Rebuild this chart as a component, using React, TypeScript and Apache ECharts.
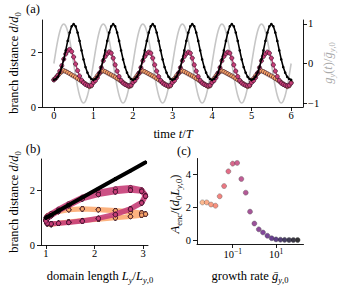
import React, { useEffect, useRef } from 'react';
import * as echarts from 'echarts';

// ---------- data ----------
const TIME = [
  0, 0.05, 0.1, 0.15, 0.2, 0.25, 0.3, 0.35, 0.4, 0.45, 0.5, 0.55, 0.6, 0.65, 0.7, 0.75, 0.8, 0.85, 0.9, 0.95,
  1, 1.05, 1.1, 1.15, 1.2, 1.25, 1.3, 1.35, 1.4, 1.45, 1.5, 1.55, 1.6, 1.65, 1.7, 1.75, 1.8, 1.85, 1.9, 1.95,
  2, 2.05, 2.1, 2.15, 2.2, 2.25, 2.3, 2.35, 2.4, 2.45, 2.5, 2.55, 2.6, 2.65, 2.7, 2.75, 2.8, 2.85, 2.9, 2.95,
  3, 3.05, 3.1, 3.15, 3.2, 3.25, 3.3, 3.35, 3.4, 3.45, 3.5, 3.55, 3.6, 3.65, 3.7, 3.75, 3.8, 3.85, 3.9, 3.95,
  4, 4.05, 4.1, 4.15, 4.2, 4.25, 4.3, 4.35, 4.4, 4.45, 4.5, 4.55, 4.6, 4.65, 4.7, 4.75, 4.8, 4.85, 4.9, 4.95,
  5, 5.05, 5.1, 5.15, 5.2, 5.25, 5.3, 5.35, 5.4, 5.45, 5.5, 5.55, 5.6, 5.65, 5.7, 5.75, 5.8, 5.85, 5.9, 5.95,
  6,
];

// g_y(t)/g_y,0 (grey, right axis)
const GROWTH = [
  0, 0.31, 0.59, 0.81, 0.95, 1, 0.95, 0.81, 0.59, 0.31, 0, -0.31, -0.59, -0.81, -0.95, -1, -0.95, -0.81, -0.59, -0.31,
  0, 0.31, 0.59, 0.81, 0.95, 1, 0.95, 0.81, 0.59, 0.31, 0, -0.31, -0.59, -0.81, -0.95, -1, -0.95, -0.81, -0.59, -0.31,
  0, 0.31, 0.59, 0.81, 0.95, 1, 0.95, 0.81, 0.59, 0.31, 0, -0.31, -0.59, -0.81, -0.95, -1, -0.95, -0.81, -0.59, -0.31,
  0, 0.31, 0.59, 0.81, 0.95, 1, 0.95, 0.81, 0.59, 0.31, 0, -0.31, -0.59, -0.81, -0.95, -1, -0.95, -0.81, -0.59, -0.31,
  0, 0.31, 0.59, 0.81, 0.95, 1, 0.95, 0.81, 0.59, 0.31, 0, -0.31, -0.59, -0.81, -0.95, -1, -0.95, -0.81, -0.59, -0.31,
  0, 0.31, 0.59, 0.81, 0.95, 1, 0.95, 0.81, 0.59, 0.31, 0, -0.31, -0.59, -0.81, -0.95, -1, -0.95, -0.81, -0.59, -0.31,
  0,
];

// branch distance d/d0, fast growth (black) -- equals L_y/L_y,0
const D_FAST = [
  1.0, 1.03, 1.11, 1.26, 1.47, 1.75, 2.08, 2.43, 2.74, 2.97, 3.05, 2.97, 2.74, 2.43, 2.08, 1.75, 1.47, 1.26, 1.11, 1.03,
  1.0, 1.03, 1.11, 1.26, 1.47, 1.75, 2.08, 2.43, 2.74, 2.97, 3.05, 2.97, 2.74, 2.43, 2.08, 1.75, 1.47, 1.26, 1.11, 1.03,
  1.0, 1.03, 1.11, 1.26, 1.47, 1.75, 2.08, 2.43, 2.74, 2.97, 3.05, 2.97, 2.74, 2.43, 2.08, 1.75, 1.47, 1.26, 1.11, 1.03,
  1.0, 1.03, 1.11, 1.26, 1.47, 1.75, 2.08, 2.43, 2.74, 2.97, 3.05, 2.97, 2.74, 2.43, 2.08, 1.75, 1.47, 1.26, 1.11, 1.03,
  1.0, 1.03, 1.11, 1.26, 1.47, 1.75, 2.08, 2.43, 2.74, 2.97, 3.05, 2.97, 2.74, 2.43, 2.08, 1.75, 1.47, 1.26, 1.11, 1.03,
  1.0, 1.03, 1.11, 1.26, 1.47, 1.75, 2.08, 2.43, 2.74, 2.97, 3.05, 2.97, 2.74, 2.43, 2.08, 1.75, 1.47, 1.26, 1.11, 1.03,
  1.0,
];

// branch distance d/d0, intermediate growth (pink)
const D_MID = [
  1.0, 1.06, 1.16, 1.32, 1.52, 1.76, 1.95, 2.07, 2.12, 2.04, 1.84, 1.58, 1.34, 1.14, 0.99, 0.89, 0.83, 0.8, 0.78, 0.8,
  0.9, 0.97, 1.08, 1.25, 1.45, 1.7, 1.86, 1.96, 2.03, 1.98, 1.8, 1.55, 1.32, 1.12, 0.98, 0.88, 0.83, 0.8, 0.78, 0.8,
  0.9, 0.97, 1.08, 1.25, 1.45, 1.7, 1.86, 1.96, 2.02, 1.98, 1.8, 1.55, 1.32, 1.12, 0.98, 0.88, 0.83, 0.8, 0.78, 0.8,
  0.9, 0.97, 1.08, 1.25, 1.45, 1.7, 1.86, 1.96, 2.02, 1.98, 1.8, 1.55, 1.32, 1.12, 0.98, 0.88, 0.83, 0.8, 0.78, 0.8,
  0.9, 0.97, 1.08, 1.25, 1.45, 1.7, 1.86, 1.96, 2.02, 1.98, 1.8, 1.55, 1.32, 1.12, 0.98, 0.88, 0.83, 0.8, 0.78, 0.8,
  0.9, 0.97, 1.08, 1.25, 1.45, 1.7, 1.86, 1.96, 2.02, 1.98, 1.8, 1.55, 1.32, 1.12, 0.98, 0.88, 0.83, 0.8, 0.78, 0.8,
  0.88,
];

// branch distance d/d0, slow growth (orange)
const D_SLOW = [
  1.0, 1.08, 1.16, 1.24, 1.3, 1.34, 1.31, 1.27, 1.23, 1.18, 1.14, 1.1, 1.05, 1.0, 0.95, 0.9, 0.85, 0.8, 0.75, 0.78,
  0.92, 1.05, 1.15, 1.23, 1.3, 1.33, 1.3, 1.26, 1.22, 1.18, 1.14, 1.1, 1.05, 1.0, 0.95, 0.9, 0.85, 0.8, 0.75, 0.78,
  0.92, 1.05, 1.15, 1.23, 1.3, 1.33, 1.3, 1.26, 1.22, 1.18, 1.14, 1.1, 1.05, 1.0, 0.95, 0.9, 0.85, 0.8, 0.75, 0.78,
  0.92, 1.05, 1.15, 1.23, 1.3, 1.33, 1.3, 1.26, 1.22, 1.18, 1.14, 1.1, 1.05, 1.0, 0.95, 0.9, 0.85, 0.8, 0.75, 0.78,
  0.92, 1.05, 1.15, 1.23, 1.3, 1.33, 1.3, 1.26, 1.22, 1.18, 1.14, 1.1, 1.05, 1.0, 0.95, 0.9, 0.85, 0.8, 0.75, 0.78,
  0.92, 1.05, 1.15, 1.23, 1.3, 1.33, 1.3, 1.26, 1.22, 1.18, 1.14, 1.1, 1.05, 1.0, 0.95, 0.9, 0.85, 0.8, 0.75, 0.78,
  0.9,
];

// panel (c): growth rate vs enclosed area
const RATE = [
  0.004, 0.0063, 0.01, 0.016, 0.025, 0.04, 0.063, 0.1, 0.16, 0.25, 0.4, 0.63,
  1, 1.6, 2.5, 4, 6.3, 10, 16, 25, 40, 63, 100,
];
const AREA = [
  2.28, 2.28, 2.15, 2.08, 2.65, 3.27, 4.16, 4.63, 4.67, 3.7, 2.87, 1.72,
  1.0, 0.65, 0.46, 0.26, 0.11, 0.04, 0.02, 0.01, 0.0, 0.0, 0.0,
];

// tick values
const TICKS_T = [0, 1, 2, 3, 4, 5, 6];
const TICKS_D = [0, 2];
const TICKS_G = [-1, 0, 1];
const TICKS_L = [1, 2, 3];
const TICKS_RATE = [0.1, 10];
const TICKS_AREA = [0, 2, 4];

// ---------- styles ----------
const F = '"Liberation Serif", "DejaVu Serif", serif';
const TICK_FS = 10.5;
const LBL_FS = 12.5;
const SUB_FS = 8.5;
const PINK = '#c73e78';
const ORANGE = '#fba66a';
const EDGE = '#2b0b22';
const GREY = '#c6c6c6';

const MAGMA = [
  '#000004', '#140e36', '#3b0f70', '#641a80', '#8c2981', '#b73779',
  '#de4968', '#f7705c', '#fe9f6d', '#fecf92', '#fcfdbf',
];
function hexToRgb(h: string) {
  return [parseInt(h.slice(1, 3), 16), parseInt(h.slice(3, 5), 16), parseInt(h.slice(5, 7), 16)];
}
function magma(t: number) {
  const p = Math.max(0, Math.min(1, t)) * 10;
  const i = Math.min(9, Math.floor(p));
  const f = p - i;
  const a = hexToRgb(MAGMA[i]);
  const b = hexToRgb(MAGMA[i + 1]);
  const c = a.map((v, k) => Math.round(v + (b[k] - v) * f));
  return `rgb(${c[0]},${c[1]},${c[2]})`;
}

const tok = (size: number, italic: boolean, lh: number, va?: string) => ({
  font: `${italic ? 'italic ' : ''}normal ${size}px ${F}`,
  fontFamily: F,
  fontSize: size,
  fontStyle: italic ? 'italic' : 'normal',
  fontWeight: 'normal',
  lineHeight: lh,
  ...(va ? { verticalAlign: va } : {}),
});

const RICH: any = {
  r: tok(LBL_FS, false, 16),
  i: tok(LBL_FS, true, 16),
  s: tok(SUB_FS, false, 8, 'bottom'),
  si: tok(SUB_FS, true, 8, 'bottom'),
};

function label(x: number, y: number, text: string, rot = 0, color = '#000') {
  return {
    type: 'text',
    x,
    y,
    rotation: rot,
    silent: true,
    style: {
      text,
      rich: RICH,
      fill: color,
      font: `normal normal ${LBL_FS}px ${F}`,
      align: 'center',
      verticalAlign: 'middle',
    },
  };
}

const minus = (v: number) => (v < 0 ? '\u2212' + Math.abs(v) : String(v));

function valAxis(o: any) {
  const { ticks, margin = 4, formatter, rich, ...rest } = o;
  return {
    type: 'value',
    splitLine: { show: false },
    axisLine: { show: true, onZero: false, lineStyle: { color: '#000', width: 0.9 } },
    axisTick: { show: true, length: 4, customValues: ticks, lineStyle: { color: '#000', width: 0.9 } },
    axisLabel: {
      show: true,
      customValues: ticks,
      color: '#000',
      fontFamily: F,
      fontSize: TICK_FS,
      margin,
      formatter: formatter || minus,
      rich,
    },
    ...rest,
  };
}

export default function App() {
  const ref = useRef<HTMLDivElement>(null);

  useEffect(() => {
    const chart = echarts.init(ref.current!, null, { renderer: 'svg' });

    const lineSeries = (name: string, xi: number, yi: number, data: any[], color: string, size: number, lw: number, edge: boolean, z: number, lineOpacity = 1) => ({
      name,
      type: 'line',
      xAxisIndex: xi,
      yAxisIndex: yi,
      data,
      symbol: 'circle',
      symbolSize: size,
      showAllSymbol: true,
      z,
      itemStyle: { color, borderColor: edge ? EDGE : color, borderWidth: edge ? 0.6 : 0 },
      lineStyle: { color, width: lw, opacity: lineOpacity },
      emphasis: { disabled: true },
    });

    const option: any = {
      animation: false,
      backgroundColor: '#fff',
      grid: [
        { left: 42, top: 20, width: 261, height: 87 },
        { left: 41, top: 159, width: 107, height: 86 },
        { left: 197, top: 158.5, width: 106.5, height: 85.5 },
      ],
      xAxis: [
        valAxis({ gridIndex: 0, min: -0.3, max: 6.3, ticks: TICKS_T, margin: 3 }),
        valAxis({ gridIndex: 1, min: 0.9, max: 3.1, ticks: TICKS_L, margin: 3 }),
        {
          type: 'log',
          logBase: 10,
          gridIndex: 2,
          min: 0.00224,
          max: 186,
          splitLine: { show: false },
          minorTick: { show: false },
          axisLine: { show: true, onZero: false, lineStyle: { color: '#000', width: 0.9 } },
          axisTick: { show: true, length: 4, customValues: TICKS_RATE, lineStyle: { color: '#000', width: 0.9 } },
          axisLabel: {
            show: true,
            customValues: TICKS_RATE,
            color: '#000',
            margin: 3,
            formatter: (v: number) => {
              const e = Math.round(Math.log10(v));
              return `{b|10}{p|${e < 0 ? '\u2212' : ''}${Math.abs(e)}}`;
            },
            rich: {
              b: { fontFamily: F, fontSize: TICK_FS, lineHeight: 14 },
              p: { fontFamily: F, fontSize: 7.5, lineHeight: 8, verticalAlign: 'top' },
            },
          },
        },
      ],
      yAxis: [
        valAxis({ gridIndex: 0, min: 0, max: 3.2, ticks: TICKS_D, margin: 6 }),
        valAxis({ gridIndex: 0, position: 'right', min: -1.1, max: 1.1, ticks: TICKS_G, margin: 5 }),
        valAxis({ gridIndex: 1, min: 0, max: 3.17, ticks: TICKS_D, margin: 6 }),
        valAxis({ gridIndex: 2, min: -0.24, max: 4.94, ticks: TICKS_AREA, margin: 6 }),
      ],
      series: [
        // panel (a)
        {
          name: 'growth', type: 'line', xAxisIndex: 0, yAxisIndex: 1, z: 1,
          data: TIME.map((t, i) => [t, GROWTH[i]]), showSymbol: false, smooth: 0.3,
          lineStyle: { color: GREY, width: 1.6 }, emphasis: { disabled: true },
        },
        lineSeries('slow', 0, 0, TIME.map((t, i) => [t, D_SLOW[i]]), ORANGE, 4.2, 1.4, true, 2),
        lineSeries('mid', 0, 0, TIME.map((t, i) => [t, D_MID[i]]), PINK, 4.2, 1.4, true, 3),
        lineSeries('fast', 0, 0, TIME.map((t, i) => [t, D_FAST[i]]), '#000', 2.6, 1.6, false, 4),
        // panel (b)
        lineSeries('slow-b', 1, 2, D_FAST.map((L, i) => [L, D_SLOW[i]]), ORANGE, 4.2, 5, true, 2, 0.85),
        lineSeries('mid-b', 1, 2, D_FAST.map((L, i) => [L, D_MID[i]]), PINK, 4.2, 5, true, 3, 0.9),
        lineSeries('fast-b', 1, 2, D_FAST.map((L) => [L, L]), '#000', 3, 4, false, 4),
        // panel (c)
        {
          name: 'area', type: 'scatter', xAxisIndex: 2, yAxisIndex: 3, z: 3,
          data: RATE.map((g, i) => [g, AREA[i]]),
          symbolSize: 5,
          itemStyle: {
            color: (p: any) => magma(0.82 * (1 - p.dataIndex / (RATE.length - 1))),
            borderColor: '#555',
            borderWidth: 0.5,
          },
          emphasis: { disabled: true },
        },
      ],
      graphic: [
        label(33, 9, '{r|(a)}'),
        label(33, 149, '{r|(b)}'),
        label(184, 151, '{r|(c)}'),
        label(14, 63, '{r|branch distance }{i|d}{r|/}{i|d}{s|0}', Math.PI / 2),
        label(14, 202, '{r|branch distance }{i|d}{r|/}{i|d}{s|0}', Math.PI / 2),
        label(328, 63, '{i|g}{si|y}{r|(}{i|t}{r|)/}{i|g\u0304}{si|y}{s|,0}', Math.PI / 2, '#aaaaaa'),
        label(175, 204, '{i|A}{s|enc}{r|/(}{i|d}{s|0}{i|L}{si|y}{s|,0}{r|)}', Math.PI / 2),
        label(173, 134, '{r|time }{i|t}{r|/}{i|T}'),
        label(100, 276, '{r|domain length }{i|L}{si|y}{r|/}{i|L}{si|y}{s|,0}'),
        label(250, 276, '{r|growth rate }{i|g\u0304}{si|y}{s|,0}'),
      ],
    };

    chart.setOption(option);
    return () => chart.dispose();
  }, []);

  return (
    <div
      ref={ref}
      style={{ position: 'fixed', left: 0, top: 0, width: 342, height: 294, background: '#fff' }}
    />
  );
}
